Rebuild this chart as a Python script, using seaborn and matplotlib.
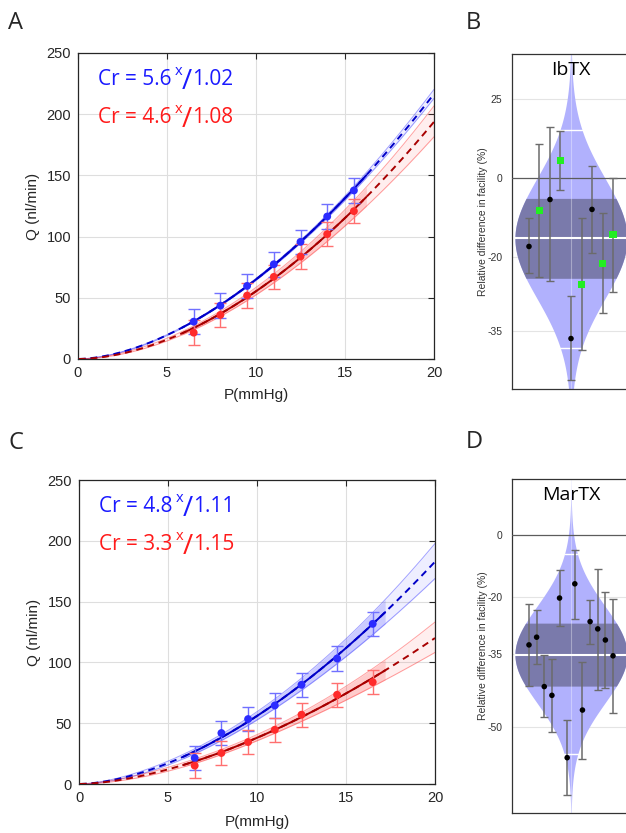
import numpy as np
import matplotlib
matplotlib.use('Agg')
import matplotlib.pyplot as plt
from matplotlib.transforms import IdentityTransform
import seaborn as sns

# ---- values ----
# flow vs pressure, panel A
pressure_A = [6.5, 8, 9.5, 11, 12.5, 14, 15.5]
flow_A_ctrl = [30.5, 43.6, 59.7, 77.4, 95.7, 116.4, 137.7]
flow_A_tox = [21.5, 36.0, 51.8, 67.1, 83.7, 102.0, 120.8]
# flow vs pressure, panel C
pressure_C = [6.5, 8, 9.5, 11, 12.5, 14.5, 16.5]
flow_C_ctrl = [21.4, 41.9, 53.4, 64.6, 81.6, 103.2, 131.7]
flow_C_tox = [15.1, 25.5, 34.5, 44.6, 57.0, 73.4, 83.8]
flow_sd = 10

# power-law fits Q = k * P**b  (k, b) and confidence band (log half-width at P0, slope)
fit_A = {'ctrl': (1.194, 1.736), 'tox': (0.861, 1.808)}
band_A = {'ctrl': (0.012, 0.02), 'tox': (0.055, 0.058)}
fit_C = {'ctrl': (1.096, 1.708), 'tox': (0.831, 1.660)}
band_C = {'ctrl': (0.06, 0.088), 'tox': (0.065, 0.14)}
labels_A = [('5.6', '1.02'), ('4.6', '1.08')]
labels_C = [('4.8', '1.11'), ('3.3', '1.15')]

# relative difference in facility (%), panel B (IbTX)
ibtx_val = [-17.5, -8.6, -5.8, 5.2, -36.4, -25.9, -8.4, -21.3, -14.6]
ibtx_lo = [-23.5, -24.4, -25.2, -3.1, -43.5, -38.5, -18.9, -31.7, -27.5]
ibtx_hi = [-10.7, 10.1, 15.5, 14.2, -28.3, -10.7, 3.7, -9.2, 0.0]
ibtx_kind = ['o', 's', 'o', 's', 'o', 's', 'o', 's', 's']
ibtx_mean = -15.6
ibtx_band = (-24.6, -5.5)
ibtx_whisk = (-38.0, 14.5)
ibtx_ticks = [25, 0, -20, -35]

# panel D (MarTX)
martx_val = [-32.8, -30.9, -42.2, -44.0, -20.4, -55.3, -16.2, -46.9, -26.9, -28.8, -31.6, -35.4]
martx_lo = [-42.1, -37.3, -48.3, -51.0, -28.0, -61.0, -26.3, -55.5, -32.5, -42.9, -42.4, -47.4]
martx_hi = [-22.0, -23.9, -35.3, -36.1, -11.9, -48.8, -5.3, -36.9, -20.9, -11.5, -18.7, -20.7]
martx_kind = ['o'] * 12
martx_mean = -35.1
martx_band = (-42.1, -27.3)
martx_whisk = (-54.7, -6.6)
martx_ticks = [0, -20, -35, -50]

sns.set_style('white')
plt.rcParams['font.family'] = ['Liberation Sans', 'DejaVu Sans']

W, H = 626, 833
fig = plt.figure(figsize=(W / 100, H / 100), dpi=100)
renderer = fig.canvas.get_renderer()


def px_axes(l, t, r, b):
    return fig.add_axes([l / W, 1 - b / H, (r - l) / W, (b - t) / H])


axA = px_axes(78, 53, 434, 359)
axC = px_axes(79, 480, 435, 784)
axB = px_axes(512, 54, 630, 389)
axD = px_axes(512, 479, 630, 813)

line_col = {'ctrl': '#0000c8', 'tox': '#a80000'}
band_col = {'ctrl': '#3030ff', 'tox': '#ff3030'}
pt_col = {'ctrl': '#2b2bff', 'tox': '#ff2b2b'}
err_col = {'ctrl': '#7070ff', 'tox': '#ff7070'}
txt_col = {'ctrl': '#1a1aff', 'tox': '#ff1a1a'}


def cr_label(x_px, base_px, cr, sd, color):
    # "Cr = 5.6 x/1.02" built from pieces, positions in pixels (origin top-left)
    y0 = H - base_px
    kw = dict(transform=IdentityTransform(), color=color, family='Open Sans',
              va='baseline', ha='left')
    t1 = fig.text(x_px, y0, 'Cr = ' + cr, fontsize=15, **kw)
    x1 = t1.get_window_extent(renderer).x1
    t2 = fig.text(x1 + 3, y0 + 10, 'x', fontsize=10.5, **kw)
    x2 = t2.get_window_extent(renderer).x1
    t3 = fig.text(x2, y0 - 4, '/', fontsize=20, **kw)
    x3 = t3.get_window_extent(renderer).x1
    fig.text(x3, y0, sd, fontsize=15, **kw)


def flow_panel(ax, p, flows, fits, bands, labels, xlab_y, ax_left, ax_top):
    p = np.asarray(p, float)
    p0 = p.mean()
    grid = np.linspace(0.05, 20, 400)
    lo_s, hi_s = p.min() - 0.7, p.max() + 0.7
    inner = (grid >= lo_s) & (grid <= hi_s)
    for key, q in flows.items():
        k, b = fits[key]
        a, s = bands[key]
        fit = k * grid ** b
        h = np.sqrt(a ** 2 + (s * np.log(grid / p0)) ** 2)
        up, dn = fit * np.exp(h), fit * np.exp(-h)
        ax.fill_between(grid, dn, up, color=band_col[key], alpha=0.08, lw=0, zorder=1)
        ax.fill_between(grid[inner], dn[inner], up[inner], color=band_col[key],
                        alpha=0.18, lw=0, zorder=1)
        ax.plot(grid, up, color=band_col[key], alpha=0.45, lw=0.7, zorder=2)
        ax.plot(grid, dn, color=band_col[key], alpha=0.45, lw=0.7, zorder=2)
        sns.lineplot(x=grid, y=fit, ax=ax, color=line_col[key], lw=1.4,
                     linestyle=(0, (3.5, 2.5)), zorder=3)
        sns.lineplot(x=grid[inner], y=fit[inner], ax=ax, color=line_col[key],
                     lw=1.4, zorder=4)
        ax.errorbar(p, q, yerr=flow_sd, fmt='none', ecolor=err_col[key],
                    elinewidth=1.0, capsize=4, capthick=1.0, zorder=5)
        sns.scatterplot(x=p, y=q, ax=ax, color=pt_col[key], s=32,
                        edgecolor='none', zorder=6)

    for (cr, sd), key, dy in zip(labels, ['ctrl', 'tox'], [32, 70]):
        cr_label(ax_left + 20, ax_top + dy, cr, sd, txt_col[key])

    ax.set_xlim(0, 20)
    ax.set_ylim(0, 250)
    ax.set_xticks([0, 5, 10, 15, 20])
    ax.set_yticks([0, 50, 100, 150, 200, 250])
    ax.grid(True, color='#dedede', lw=0.8)
    ax.set_axisbelow(True)
    ax.tick_params(direction='in', length=4, top=True, right=True,
                   labelsize=10.5, colors='#262626', pad=5)
    for sp in ax.spines.values():
        sp.set_color('#262626')
        sp.set_linewidth(0.9)
    ax.set_xlabel('P(mmHg)', fontsize=11, color='#262626')
    ax.set_ylabel('Q (nl/min)', fontsize=11, color='#262626')
    ax.xaxis.set_label_coords(0.5, xlab_y)
    ax.yaxis.set_label_coords(-0.107, 0.5)


flow_panel(axA, pressure_A, {'ctrl': flow_A_ctrl, 'tox': flow_A_tox}, fit_A, band_A,
           labels_A, -0.095, 78, 53)
flow_panel(axC, pressure_C, {'ctrl': flow_C_ctrl, 'tox': flow_C_tox}, fit_C, band_C,
           labels_C, -0.102, 79, 480)


def fwd(y):
    return np.log(np.clip(1 + np.asarray(y, float) / 100, 1e-6, None))


def inv(t):
    return 100 * (np.exp(t) - 1)


def violin_panel(ax, vals, lo, hi, kinds, mean, band, whisk, ticks, ylim, sigma, title):
    ax.set_yscale('function', functions=(fwd, inv))
    ax.set_xlim(0, 1)
    ax.set_ylim(*ylim)
    mu = fwd(mean)

    def half(t):
        return 0.475 * np.exp(-(t - mu) ** 2 / (2 * sigma ** 2))

    t = np.linspace(fwd(ylim[0]) - 0.05, fwd(ylim[1]) + 0.05, 800)
    ax.fill_betweenx(inv(t), 0.5 - half(t), 0.5 + half(t), color='#b1b1fd', lw=0, zorder=1)
    tb = np.linspace(fwd(band[0]), fwd(band[1]), 300)
    ax.fill_betweenx(inv(tb), 0.5 - half(tb), 0.5 + half(tb), color='#7a7aab', lw=0, zorder=2)
    ax.plot([0.5, 0.5], [inv(t[0]), inv(t[-1])], color='white', alpha=0.35, lw=0.8, zorder=2)
    for yv, lw in [(mean, 1.5), (whisk[0], 1.0), (whisk[1], 1.0)]:
        w = half(fwd(yv))
        ax.plot([0.5 - w, 0.5 + w], [yv, yv], color='white', lw=lw, zorder=3)

    for tk in ticks:
        if tk != 0:
            ax.axhline(tk, color='#e4e4e4', lw=0.8, zorder=0)
    ax.axhline(0, color='#5c5c5c', lw=0.9, zorder=3)

    vals = np.asarray(vals, float)
    x = np.linspace(0.144, 0.856, len(vals))
    yerr = [vals - np.asarray(lo), np.asarray(hi) - vals]
    ax.errorbar(x, vals, yerr=yerr, fmt='none', ecolor='#6b6b6b', elinewidth=1.1,
                capsize=2.6, capthick=1.0, zorder=4)
    kinds = np.asarray(kinds)
    m = kinds == 'o'
    sns.scatterplot(x=x[m], y=vals[m], ax=ax, color='black', marker='o', s=16,
                    edgecolor='none', zorder=5)
    if (~m).any():
        sns.scatterplot(x=x[~m], y=vals[~m], ax=ax, color='#22ee22', marker='s', s=26,
                        edgecolor='none', zorder=5)

    ax.set_yticks(ticks)
    ax.set_yticklabels([str(v) for v in ticks])
    ax.set_xticks([])
    ax.tick_params(axis='y', direction='in', length=3, labelsize=7.5,
                   colors='#333333', pad=7)
    ax.spines['right'].set_visible(False)
    for sp in ['left', 'top', 'bottom']:
        ax.spines[sp].set_color('#333333')
        ax.spines[sp].set_linewidth(0.9)
    ax.set_ylabel('Relative difference in facility (%)', fontsize=7.5, color='#333333')
    ax.yaxis.set_label_coords(-0.2, 0.5)
    ax.text(0.5, 0.952, title, transform=ax.transAxes, ha='center', va='center',
            fontsize=14, family='Open Sans', color='black', zorder=6)


violin_panel(axB, ibtx_val, ibtx_lo, ibtx_hi, ibtx_kind, ibtx_mean, ibtx_band,
             ibtx_whisk, ibtx_ticks, (-44.85, 42.1), 0.17, 'IbTX')
violin_panel(axD, martx_val, martx_lo, martx_hi, martx_kind, martx_mean, martx_band,
             martx_whisk, martx_ticks, (-63.4, 22.4), 0.175, 'MarTX')

for letter, x, y in [('A', 8, 23), ('B', 466, 23), ('C', 8, 443), ('D', 466, 442)]:
    fig.text(x / W, 1 - y / H, letter, fontsize=17, family='Open Sans',
             va='center', ha='left')

fig.savefig('out.png', dpi=100)
